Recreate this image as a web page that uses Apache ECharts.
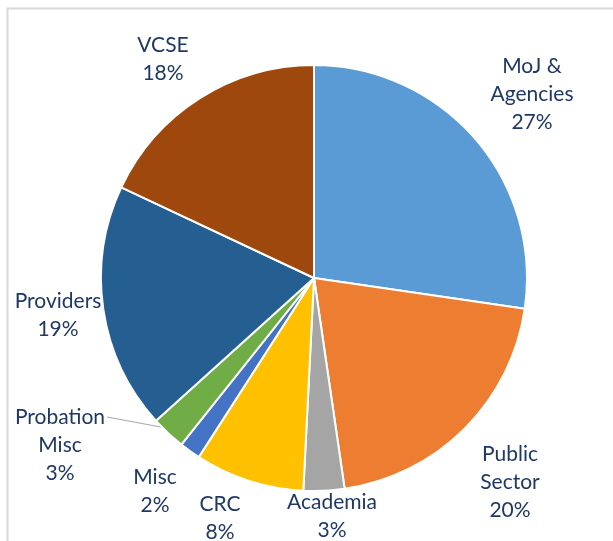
<!DOCTYPE html>
<html>
<head>
<meta charset="utf-8">
<script src="https://cdn.jsdelivr.net/npm/echarts@6/dist/echarts.min.js"></script>
<style>
html, body { margin: 0; padding: 0; background: #fff; }
#main { width: 613px; height: 541px; }
</style>
</head>
<body>
<div id="main"></div>
<script>
var categories = ['MoJ &\nAgencies', 'Public\nSector', 'Academia', 'CRC', 'Misc', 'Probation\nMisc', 'Providers', 'VCSE'];
var values = [27.3, 20.4, 3.1, 8.3, 1.6, 2.6, 18.7, 18.0];
var colors = ['#5b9bd5', '#ed7d31', '#a5a5a5', '#ffc000', '#4472c4', '#70ad47', '#255e91', '#9e480e'];

// where each label sits (centre of text block)
var labelPos = [[532, 94], [510, 482], [332, 516], [220, 518], [155, 491], [60, 445], [58, 315], [163, 59]];
var lineH = 28;

var chart = echarts.init(document.getElementById('main'));

var pieData = [];
categories.forEach(function (name, i) {
	pieData.push({
		name: name,
		value: values[i],
		itemStyle: { color: colors[i] },
		labelLine: { show: i === 5 }
	});
});

var option = {
	backgroundColor: '#fff',
	animation: false,
	graphic: [{
		type: 'polyline',
		shape: { points: [[7.5, 541], [7.5, 8.5], [613, 8.5]] },
		style: { stroke: '#d9d9d9', lineWidth: 2, fill: null }
	}],
	series: [{
		type: 'pie',
		center: [314, 278],
		radius: 213,
		startAngle: 90,
		clockwise: true,
		percentPrecision: 0,
		data: pieData,
		itemStyle: {
			borderColor: '#fff',
			borderWidth: 2
		},
		label: {
			show: true,
			position: 'outside',
			formatter: '{b}\n{d}%',
			color: '#1f3864',
			fontFamily: 'Lato',
			fontSize: 21,
			lineHeight: lineH,
			align: 'center',
			overflow: 'none'
		},
		labelLine: {
			length: 10,
			length2: 10,
			lineStyle: { color: '#a6a6a6', width: 1 }
		},
		labelLayout: function (params) {
			var p = labelPos[params.dataIndex];
			var out = {
				x: p[0],
				y: p[1],
				align: 'center',
				verticalAlign: 'middle'
			};
			if (params.dataIndex === 5 && params.labelLinePoints) {
				var start = params.labelLinePoints[0];
				var rectW = params.labelRect.width;
				var lines = 3;
				var endX = p[0] + rectW / 2 + 2;
				var endY = p[1] - lineH * (lines - 1) / 2;
				out.labelLinePoints = [[start[0] - 6, start[1] - 6], [endX, endY], [endX, endY]];
			}
			return out;
		}
	}]
};

chart.setOption(option);
</script>
</body>
</html>
